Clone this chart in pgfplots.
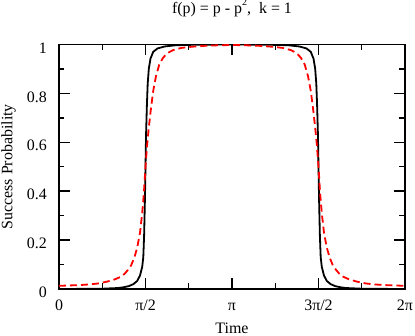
\documentclass[border=0pt]{standalone}
\usepackage{fontspec}
\setmainfont{Liberation Serif}
\usepackage{pgfplots}
\pgfplotsset{compat=1.18}

% black: steep curve, red: slower curve (t in radians, value)
\pgfplotstableread{
t v
0.0000 0.000
0.7708 0.001
1.0708 0.004
1.1708 0.007
1.2708 0.012
1.3508 0.020
1.4208 0.033
1.4708 0.055
1.5108 0.090
1.5308 0.130
1.5458 0.220
1.5608 0.370
1.5708 0.500
1.5808 0.630
1.5958 0.750
1.6108 0.840
1.6308 0.900
1.6608 0.942
1.7108 0.970
1.7908 0.984
1.9208 0.992
2.1208 0.997
2.4708 0.999
3.1416 1.000
3.8124 0.999
4.1624 0.997
4.3624 0.992
4.4924 0.984
4.5724 0.970
4.6224 0.942
4.6524 0.900
4.6724 0.840
4.6874 0.750
4.7024 0.630
4.7124 0.500
4.7224 0.370
4.7374 0.220
4.7524 0.130
4.7724 0.090
4.8124 0.055
4.8624 0.033
4.9324 0.020
5.0124 0.012
5.1124 0.007
5.2124 0.004
5.5124 0.001
6.2832 0.000
}\blackdata

\pgfplotstableread{
t v
0.0000 0.013
0.3708 0.016
0.5708 0.019
0.7208 0.023
0.8708 0.030
1.0208 0.040
1.1208 0.050
1.1908 0.062
1.2508 0.078
1.3108 0.097
1.3708 0.130
1.4208 0.170
1.4708 0.230
1.5108 0.310
1.5408 0.390
1.5708 0.500
1.6008 0.590
1.6308 0.660
1.6708 0.740
1.7108 0.810
1.7608 0.870
1.8208 0.918
1.8908 0.946
1.9708 0.965
2.0708 0.977
2.2208 0.986
2.4208 0.991
2.6708 0.995
2.9208 0.997
3.1416 0.998
3.3624 0.997
3.6124 0.995
3.8624 0.991
4.0624 0.986
4.2124 0.977
4.3124 0.965
4.3924 0.946
4.4624 0.918
4.5224 0.870
4.5724 0.810
4.6124 0.740
4.6524 0.660
4.6824 0.590
4.7124 0.500
4.7424 0.390
4.7724 0.310
4.8124 0.230
4.8624 0.170
4.9124 0.130
4.9724 0.097
5.0324 0.078
5.0924 0.062
5.1624 0.050
5.2624 0.040
5.4124 0.030
5.5624 0.023
5.7124 0.019
5.9124 0.016
6.2832 0.013
}\reddata

\begin{document}
\fontsize{16}{19}\selectfont
\begin{tikzpicture}
\pgfplotsset{
  every tick label/.append style={font=\fontsize{16}{19}\selectfont},
  every axis label/.append style={font=\fontsize{16}{19}\selectfont},
  every axis title/.append style={font=\fontsize{16}{19}\selectfont},
}
\begin{axis}[
  scale only axis, width=346bp, height=244.5bp,
  xmin=0, xmax=6.2832, ymin=0, ymax=1,
  xtick={0,1.5708,3.1416,4.7124,6.2832},
  xticklabels={0,π/2,π,3π/2,2π},
  ytick={0,0.2,0.4,0.6,0.8,1},
  minor x tick num=1, minor y tick num=1,
  tick align=inside,
  major tick length=11bp, minor tick length=5.5bp,
  axis line style={line width=1.4bp},
  every tick/.style={line width=1.4bp, black},
  /pgf/number format/assume math mode=true,
  xticklabel style={anchor=base, yshift=-21bp, inner sep=0pt},
  yticklabel style={anchor=east, xshift=-12bp, yshift=-3.5bp, inner sep=0pt},
  title={f(p) = p - p\raisebox{8bp}{\fontsize{10}{10}\selectfont 2},\ \ k = 1},
  title style={at={(axis description cs:0.5,1.1023)}, anchor=base, inner sep=0pt},
  xlabel={Time},
  xlabel style={at={(axis description cs:0.5,-0.18)}, anchor=base, inner sep=0pt},
  ylabel={Success Probability},
  ylabel style={at={(axis description cs:-0.1344,0.5)}, anchor=base, inner sep=0pt},
]
\addplot[black, line width=1.8bp] table[x=t, y=v] {\blackdata};
\addplot[red, line width=1.8bp, dash pattern=on 7bp off 4bp] table[x=t, y=v] {\reddata};
\end{axis}
\pgfresetboundingbox
\path (current axis.south west) ++(-59bp,-47bp) rectangle ++(415bp,336bp);
\end{tikzpicture}
\end{document}
